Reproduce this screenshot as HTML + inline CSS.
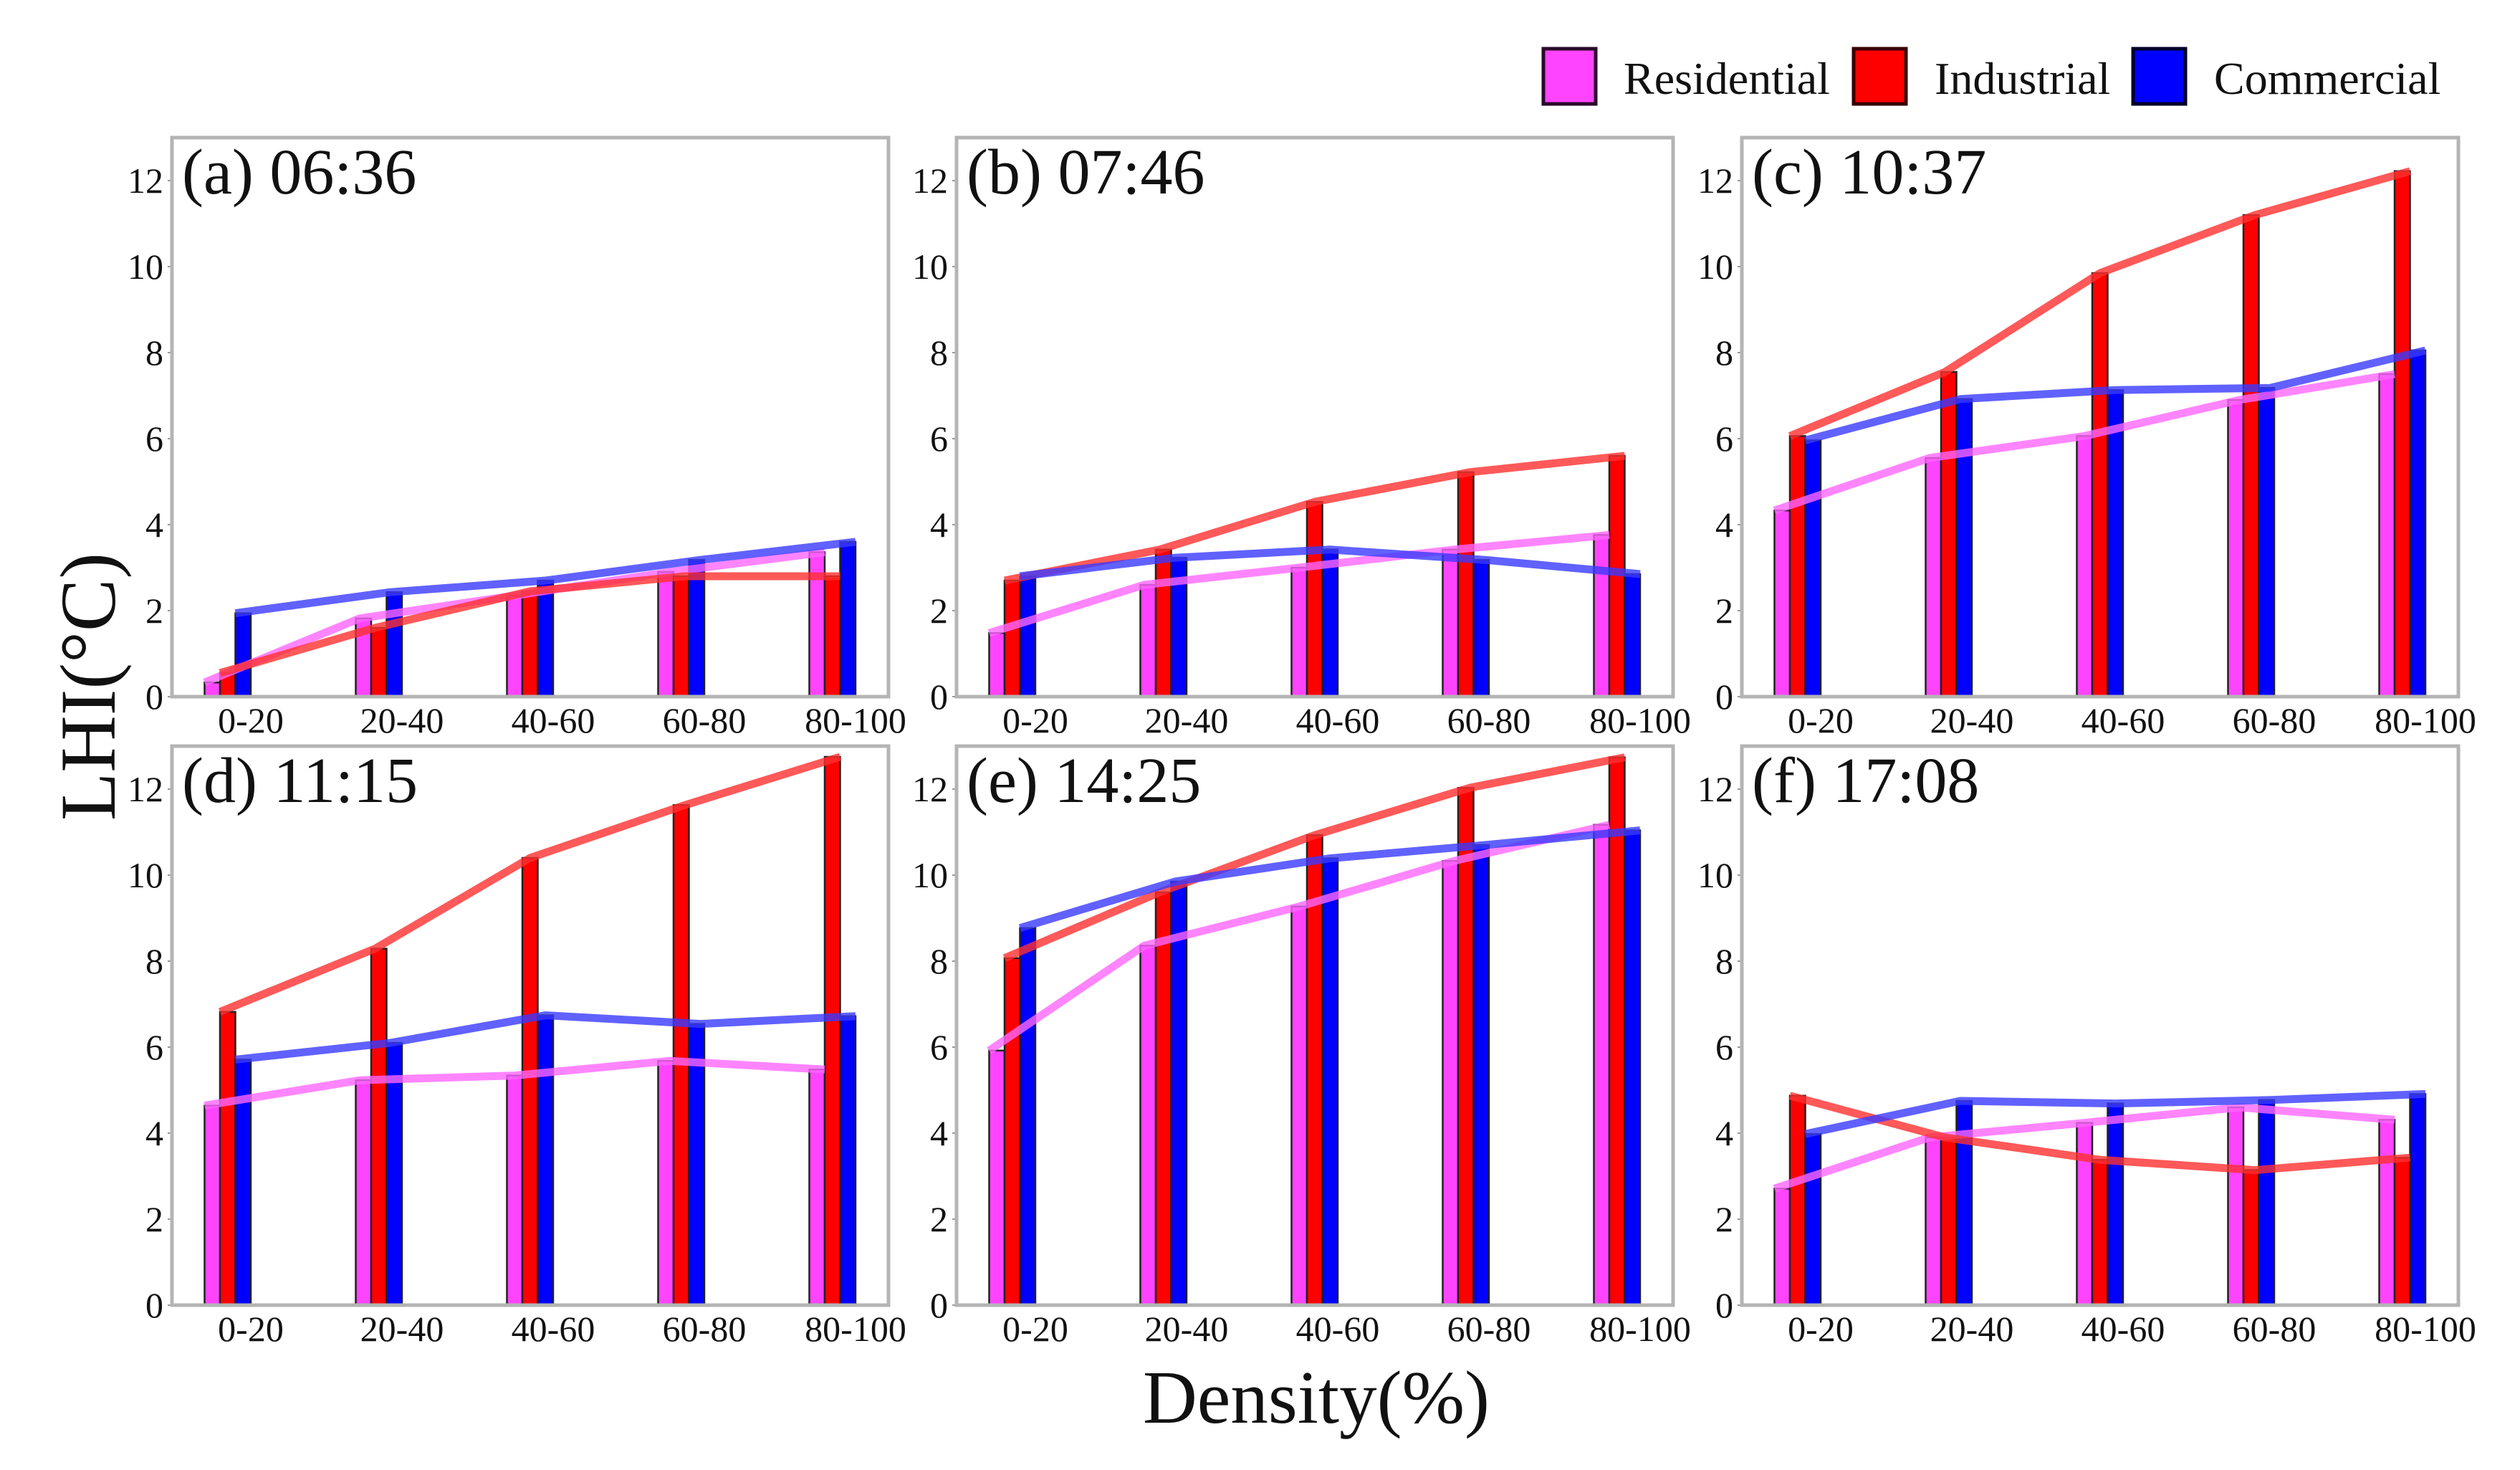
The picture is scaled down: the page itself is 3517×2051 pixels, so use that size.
<!DOCTYPE html>
<html><head><meta charset="utf-8">
<style>
html,body{margin:0;padding:0;background:#fff;}
svg{display:block;}
text{font-family:"Liberation Serif","DejaVu Serif",serif;fill:#111;}
</style></head>
<body>
<svg id="chart" width="3517" height="2051" viewBox="0 0 3517 2051" xmlns="http://www.w3.org/2000/svg">
  <g>
    <rect x="2154" y="68" width="73" height="77" fill="#ff44ff" stroke="#2a0a2a" stroke-width="5"/>
    <text x="2266" y="131" font-size="64">Residential</text>
    <rect x="2587" y="68" width="73" height="77" fill="#ff0000" stroke="#3a0000" stroke-width="5"/>
    <text x="2700" y="131" font-size="64">Industrial</text>
    <rect x="2977" y="68" width="73" height="77" fill="#0000ff" stroke="#00002a" stroke-width="5"/>
    <text x="3090" y="131" font-size="64">Commercial</text>
  </g>
  <text x="0" y="0" font-size="110" text-anchor="middle" transform="translate(160,958) rotate(-90)">LHI(°C)</text>
  <text x="1837" y="1985" font-size="105" text-anchor="middle">Density(%)</text>
  <g id="panels"></g>
</svg>
<script>
const categories = ["0-20","20-40","40-60","60-80","80-100"];
const panelTitles = ["(a) 06:36","(b) 07:46","(c) 10:37","(d) 11:15","(e) 14:25","(f) 17:08"];
const yTicks = [0,2,4,6,8,10,12];
const residential = [
  [0.33,1.82,2.35,2.9,3.36],
  [1.48,2.6,3.0,3.42,3.76],
  [4.33,5.55,6.06,6.9,7.5],
  [4.64,5.23,5.34,5.68,5.48],
  [5.92,8.36,9.27,10.33,11.17],
  [2.71,3.9,4.24,4.6,4.31]
];
const industrial = [
  [0.55,1.6,2.45,2.8,2.8],
  [2.7,3.42,4.53,5.22,5.6],
  [6.06,7.55,9.85,11.2,12.22],
  [6.82,8.29,10.4,11.63,12.75],
  [8.07,9.6,10.93,12.03,12.74],
  [4.87,3.9,3.38,3.14,3.43]
];
const commercial = [
  [1.94,2.43,2.7,3.18,3.6],
  [2.8,3.23,3.42,3.18,2.85],
  [5.96,6.92,7.13,7.18,8.05],
  [5.71,6.1,6.74,6.54,6.72],
  [8.77,9.85,10.39,10.7,11.04],
  [3.98,4.75,4.69,4.77,4.91]
];
const Y_MAX = 13;

const NS = "http://www.w3.org/2000/svg";
const root = document.getElementById("panels");
function mk(tag, attrs, parent){
  const e = document.createElementNS(NS, tag);
  for (const k in attrs) e.setAttribute(k, attrs[k]);
  parent.appendChild(e);
  return e;
}
const lefts = [240,1335,2431];
const rows = [{top:192,bottom:972},{top:1041,bottom:1821}];
const W = 1000, BW = 21.5;
const seriesList = [
  {name:"residential", data:residential, fill:"#ff44ff", line:"#ff66ff"},
  {name:"industrial", data:industrial, fill:"#ff0000", line:"#ff3030"},
  {name:"commercial", data:commercial, fill:"#0000ff", line:"#3a3aff"}
];
for (let p=0;p<6;p++){
  const L = lefts[p%3], R = rows[Math.floor(p/3)];
  const g = mk("g",{},root);
  
  
  const yScale = v => R.bottom - (v / Y_MAX) * (R.bottom - R.top);
  const xTick = i => L + 110 + i * 211;
  // y ticks
  yTicks.forEach(t => {
    const tl = mk("text",{x:L-12,y:yScale(t)+17,"font-size":50,"text-anchor":"end"},g);
    tl.textContent = t;
    
    
    mk("line",{x1:L-6,x2:L,y1:yScale(t),y2:yScale(t),stroke:"#999","stroke-width":2},g);
  });
  // x labels
  categories.forEach((c,i) => {
    const tl = mk("text",{x:xTick(i),y:R.bottom+50,"font-size":50,"text-anchor":"middle"},g);
    tl.textContent = c;
    
    
  });
  // bars
  seriesList.forEach((s,si) => {
    s.data[p].forEach((v,i) => {
      const x = xTick(i) - BW*(3-si);
      const b = mk("rect",{x:x,y:yScale(v),width:BW,height:R.bottom-yScale(v),fill:s.fill,stroke:"#222","stroke-width":2.5},g);
      
      
    });
  });
  // lines
  seriesList.forEach((s,si) => {
    const pts = s.data[p].map((v,i) => {
      const x = xTick(i) - BW*(3-si) + BW*(i/4);
      return x.toFixed(1)+","+yScale(v).toFixed(1);
    }).join(" ");
    const pl = mk("polyline",{points:pts,fill:"none",stroke:s.line,"stroke-width":11,"stroke-opacity":0.8,"stroke-linejoin":"round"},g);
    
    
  });
  // frame
  const fr = mk("rect",{x:L,y:R.top,width:W,height:R.bottom-R.top,fill:"none",stroke:"#b4b4b4","stroke-width":5},g);
  
  
  const tt = mk("text",{x:L+14,y:R.top+78,"font-size":90},g);
  tt.textContent = panelTitles[p];
  
  
}
</script>
</body></html>
